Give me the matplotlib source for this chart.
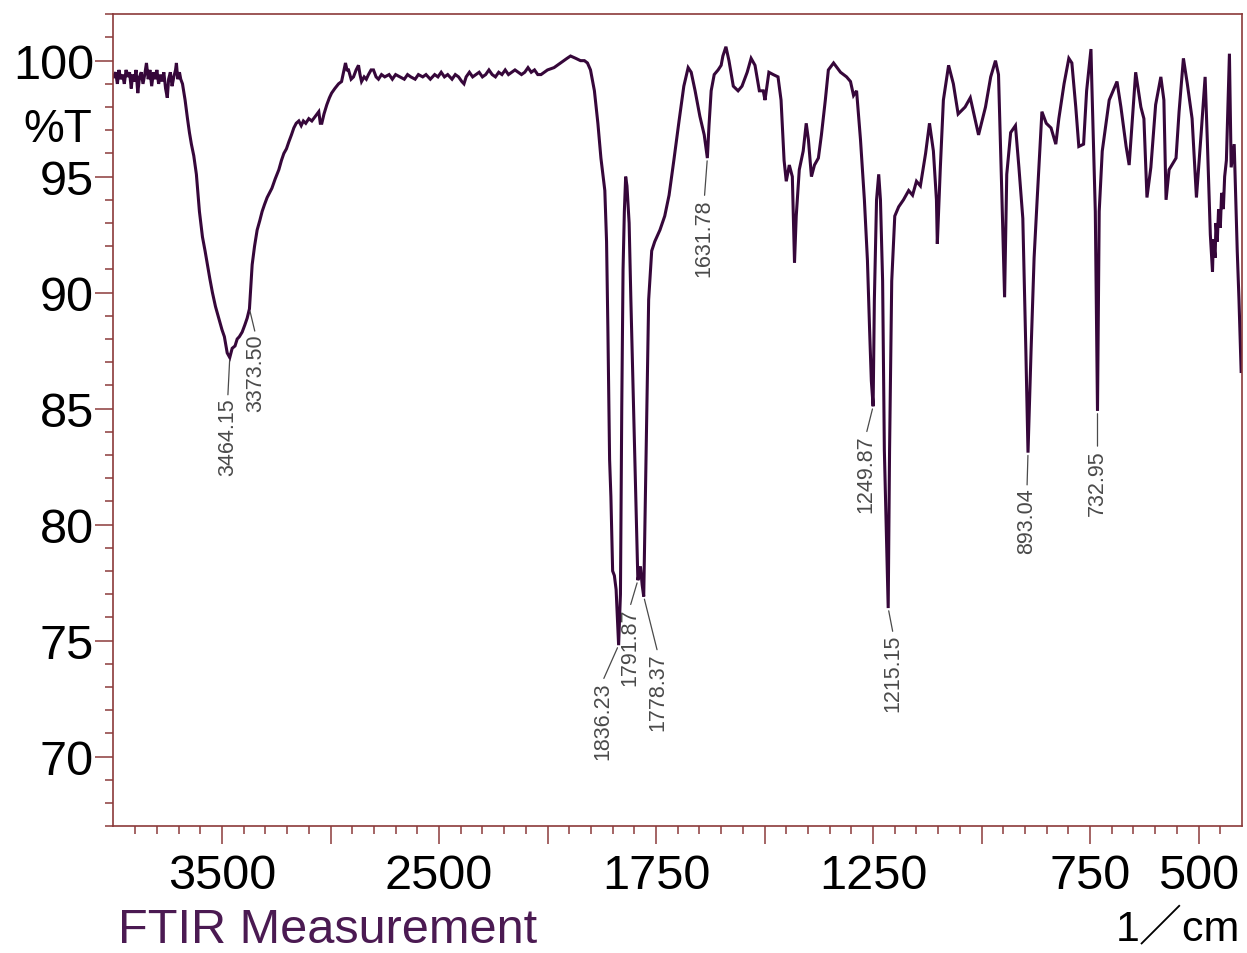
import matplotlib.pyplot as plt
import numpy as np
from matplotlib.ticker import FixedLocator, FixedFormatter

# spectrum, read in sections from high to low wavenumber (1/cm, %T)
noise_wn = [4000, 3990, 3982, 3975, 3966, 3958, 3950, 3942, 3934, 3926, 3918, 3912, 3904, 3896,
            3888, 3880, 3872, 3864, 3856, 3848, 3840, 3832, 3824, 3816, 3808, 3800, 3792, 3784,
            3776, 3768, 3760, 3752, 3746, 3738, 3730, 3722, 3714, 3710, 3704, 3696, 3690, 3682]
noise_t = [99.3, 99.5, 99.0, 99.6, 99.2, 99.4, 99.0, 99.6, 99.3, 99.5, 98.8, 99.4, 99.1, 99.6,
           98.6, 99.3, 99.5, 99.0, 99.4, 99.9, 99.2, 99.6, 98.9, 99.5, 99.2, 99.6, 99.0, 99.4,
           99.1, 99.5, 98.8, 98.4, 99.2, 99.5, 98.9, 99.3, 99.6, 99.9, 99.2, 99.5, 99.2, 99.0]

oh_wn = [3670, 3659, 3650, 3641, 3630, 3618, 3604, 3590, 3578, 3567, 3556, 3544, 3530, 3512,
         3500, 3489, 3476, 3464.15, 3453, 3440, 3430, 3420, 3407, 3395, 3384, 3373.5, 3361, 3350,
         3338, 3326, 3315, 3304, 3292, 3281, 3270, 3255, 3238, 3226, 3215, 3203, 3192, 3180,
         3169, 3158, 3146, 3135, 3125, 3114, 3100, 3086, 3070, 3054, 3047, 3040, 3030, 3017,
         3005, 2995, 2980, 2963, 2949, 2940, 2931, 2924, 2917, 2905, 2894, 2882, 2871, 2864,
         2857, 2845, 2835, 2825, 2813, 2802, 2790, 2779, 2765]
oh_t = [98.3, 97.5, 96.9, 96.4, 95.9, 95.1, 93.5, 92.4, 91.8, 91.2, 90.6, 90.0, 89.4, 88.8,
        88.4, 88.1, 87.4, 87.2, 87.6, 87.7, 88.0, 88.1, 88.3, 88.6, 88.9, 89.3, 91.2, 92.0,
        92.7, 93.1, 93.5, 93.8, 94.1, 94.3, 94.5, 94.9, 95.3, 95.7, 96.0, 96.2, 96.5, 96.8,
        97.1, 97.3, 97.4, 97.2, 97.4, 97.3, 97.5, 97.4, 97.6, 97.8, 97.3, 97.3, 97.7, 98.1,
        98.4, 98.6, 98.8, 99.0, 99.1, 99.5, 99.9, 99.6, 99.6, 99.2, 99.3, 99.6, 99.8, 99.4,
        99.1, 99.3, 99.2, 99.4, 99.6, 99.6, 99.3, 99.2, 99.4]

flat_wn = [2750, 2730, 2715, 2700, 2680, 2660, 2645, 2630, 2610, 2595, 2575, 2560, 2540, 2520,
           2505, 2490, 2475, 2460, 2440, 2425, 2410, 2395, 2385, 2375, 2360, 2345, 2330, 2315,
           2300, 2285, 2270, 2255, 2240, 2225, 2210, 2195, 2180, 2165, 2150, 2135, 2120, 2105,
           2090, 2075, 2060, 2045, 2030, 2015, 2000, 1985, 1970, 1955, 1947, 1935, 1924, 1915,
           1908, 1901]
flat_t = [99.3, 99.4, 99.2, 99.4, 99.3, 99.2, 99.4, 99.3, 99.2, 99.4, 99.3, 99.4, 99.2, 99.4,
          99.3, 99.5, 99.3, 99.4, 99.2, 99.4, 99.3, 99.1, 99.0, 99.3, 99.5, 99.3, 99.4, 99.5,
          99.3, 99.4, 99.6, 99.4, 99.3, 99.5, 99.4, 99.6, 99.4, 99.5, 99.6, 99.5, 99.4, 99.5,
          99.7, 99.5, 99.6, 99.4, 99.4, 99.5, 99.6, 99.7, 99.9, 100.1, 100.2, 100.1, 100.0, 100.0,
          99.9, 99.6]

co_wn = [1892, 1884, 1877, 1868, 1864, 1861, 1857, 1854, 1850, 1846, 1842, 1839, 1836.23, 1832,
         1829, 1826, 1823, 1820, 1817, 1812, 1808, 1803, 1799, 1795, 1791.87, 1786, 1782, 1778.37,
         1774, 1767, 1760, 1753, 1741, 1730, 1720, 1709, 1697, 1686, 1676, 1669, 1660, 1649,
         1639, 1631.78, 1628, 1623, 1616, 1607, 1600, 1596, 1589, 1582, 1572, 1561, 1552, 1540,
         1531]
co_t = [98.7, 97.3, 95.8, 94.4, 92.2, 88.5, 82.8, 81.2, 78.0, 77.8, 77.2, 76.0, 74.8, 77.0,
        85.0, 91.0, 93.5, 95.0, 94.6, 93.0, 89.7, 86.0, 83.2, 80.0, 77.6, 78.2, 77.4, 76.9,
        81.9, 89.7, 91.8, 92.2, 92.7, 93.3, 94.2, 95.7, 97.4, 98.9, 99.7, 99.5, 98.7, 97.6,
        96.8, 95.8, 97.2, 98.7, 99.4, 99.6, 99.8, 100.2, 100.6, 100.0, 98.9, 98.7, 98.9, 99.5,
        100.1]

fp_wn = [1522, 1512, 1503, 1499, 1490, 1480, 1469, 1462, 1455, 1450, 1443, 1436, 1431, 1427,
         1420, 1411, 1404, 1399, 1392, 1385, 1376, 1369, 1360, 1353, 1341, 1325, 1311, 1302,
         1295, 1288, 1279, 1270, 1263, 1258, 1254, 1249.87, 1247, 1242, 1237, 1233, 1228, 1224,
         1215.15, 1212, 1207, 1200, 1191, 1180, 1168, 1159, 1150, 1141, 1129, 1120, 1111, 1104,
         1102, 1095, 1088, 1076, 1065, 1054, 1038, 1026, 1007, 991, 979, 968, 961, 954,
         947, 942, 933, 922, 914, 905, 898, 893.04, 886, 879, 872, 863, 861, 851,
         840, 829, 822, 810, 799, 792, 783, 776, 765, 758, 748, 746, 738, 732.95,
         729, 722, 706, 688, 679, 667, 660, 654, 645, 633, 626, 619, 610, 599,
         587, 580, 575, 568, 552, 545, 535, 526, 515, 505, 494, 485, 480, 473,
         468, 466, 462, 460, 457, 454, 450, 447, 443, 440, 436, 432, 429, 425,
         418, 411, 407, 402]
fp_t = [99.8, 98.7, 98.7, 98.3, 99.5, 99.4, 99.3, 98.3, 95.7, 94.8, 95.5, 95.0, 91.3, 93.3,
        95.3, 96.1, 97.3, 96.6, 95.0, 95.5, 95.8, 96.8, 98.3, 99.6, 99.9, 99.5, 99.3, 99.1,
        98.5, 98.7, 96.6, 94.0, 91.4, 88.4, 86.2, 85.1, 89.7, 94.0, 95.1, 94.0, 90.5, 83.2,
        76.4, 83.2, 90.5, 93.3, 93.7, 94.0, 94.4, 94.2, 94.8, 94.6, 96.0, 97.3, 96.1, 94.0,
        92.1, 95.4, 98.3, 99.8, 99.0, 97.7, 98.0, 98.4, 96.8, 98.0, 99.3, 100.0, 99.4, 94.7,
        89.8, 95.1, 96.9, 97.2, 95.4, 93.2, 87.5, 83.1, 87.5, 91.5, 94.0, 97.1, 97.8, 97.3,
        97.1, 96.4, 97.5, 99.0, 100.1, 99.9, 98.0, 96.3, 96.4, 98.7, 100.5, 99.0, 93.5, 84.9,
        93.5, 96.1, 98.3, 99.1, 98.0, 96.3, 95.5, 97.1, 99.5, 98.0, 97.5, 94.1, 95.4, 98.1,
        99.3, 98.3, 94.0, 95.3, 95.8, 97.8, 100.1, 99.0, 97.5, 94.1, 96.9, 99.3, 96.6, 92.5,
        90.9, 92.3, 91.5, 93.0, 92.2, 93.6, 92.8, 94.3, 93.6, 95.0, 95.7, 98.3, 100.3, 95.4,
        96.4, 91.8, 89.7, 86.6]

# picked peaks
peak_wn = [3464.15, 3373.50, 1836.23, 1791.87, 1778.37, 1631.78, 1249.87, 1215.15, 893.04, 732.95]

# axis ticks
major_wn = [3500, 3000, 2500, 2000, 1750, 1500, 1250, 1000, 750, 500]
major_lbl = ['3500', '', '2500', '', '1750', '', '1250', '', '750', '500']
minor_wn = [w for w in range(3900, 2000, -100) if w % 500] + \
           [w for w in range(1950, 400, -50) if w % 250]
t_major = [70, 75, 80, 85, 90, 95, 100]
t_minor = [t for t in range(67, 103) if t % 5]

wn = np.array(noise_wn + oh_wn + flat_wn + co_wn + fp_wn, dtype=float)
tr = np.array(noise_t + oh_t + flat_t + co_t + fp_t, dtype=float)


# above 2000 1/cm the axis runs at half scale
def fwd(w):
    w = np.asarray(w, dtype=float)
    return np.where(w > 2000, 2000 + (w - 2000) / 2, w)


def inv(u):
    u = np.asarray(u, dtype=float)
    return np.where(u > 2000, 2000 + (u - 2000) * 2, u)


frame = '#8b3a3a'
ink = '#36073a'
lab = 'Liberation Sans'

fig = plt.figure(figsize=(12.47, 9.54), dpi=100)
ax = fig.add_axes([0.091, 0.133, 0.905, 0.851])

ax.plot(wn, tr, color=ink, lw=2.2, solid_joinstyle='miter')

ax.set_xscale('function', functions=(fwd, inv))
ax.set_xlim(4000, 400)
ax.set_ylim(67, 102)

ax.xaxis.set_major_locator(FixedLocator(major_wn))
ax.xaxis.set_major_formatter(FixedFormatter(major_lbl))
ax.xaxis.set_minor_locator(FixedLocator(minor_wn))
ax.yaxis.set_major_locator(FixedLocator(t_major))
ax.yaxis.set_minor_locator(FixedLocator(t_minor))

for s in ax.spines.values():
    s.set_color(frame)
    s.set_linewidth(1.2)
ax.tick_params(which='both', direction='out', color=frame, width=1.1)
ax.tick_params(which='major', length=13)
ax.tick_params(which='minor', length=6)
ax.tick_params(axis='y', which='major', pad=1)
ax.tick_params(axis='x', which='major', pad=6)
for t in ax.get_xticklabels() + ax.get_yticklabels():
    t.set_fontfamily(lab)
    t.set_fontsize(35)

# peak labels: offset of text top from the peak, in pixels
offsets = {3464.15: (-2, 40), 3373.50: (6, 25), 1836.23: (-16, 36), 1791.87: (-8, 27),
           1778.37: (14, 56), 1631.78: (-3, 40), 1249.87: (-7, 28), 1215.15: (5, 26),
           893.04: (-1, 35), 732.95: (0, 38)}
for p in peak_wn:
    y = tr[np.argmin(np.abs(wn - p))]
    dx, dy = offsets[p]
    ax.annotate(f'{p:.2f}', xy=(p, y), xytext=(dx, -dy), textcoords='offset pixels',
                rotation=90, ha='center', va='top', fontsize=15.5, family=lab,
                color='#4a4a4a',
                arrowprops=dict(arrowstyle='-', color='#4a4a4a', lw=0.9,
                                shrinkA=0, shrinkB=2, relpos=(0.5, 1.0)))

fig.text(0.0738, 0.864, '%T', ha='right', va='center', fontsize=33, family=lab)
fig.text(0.0946, 0.025, 'FTIR Measurement', ha='left', va='center', fontsize=35,
         family=lab, color='#4b1a52')
fig.text(0.9944, 0.025, '1／cm', ha='right', va='center', fontsize=31,
         family=[lab, 'Noto Sans CJK JP'])

fig.savefig('out.png', dpi=100)
